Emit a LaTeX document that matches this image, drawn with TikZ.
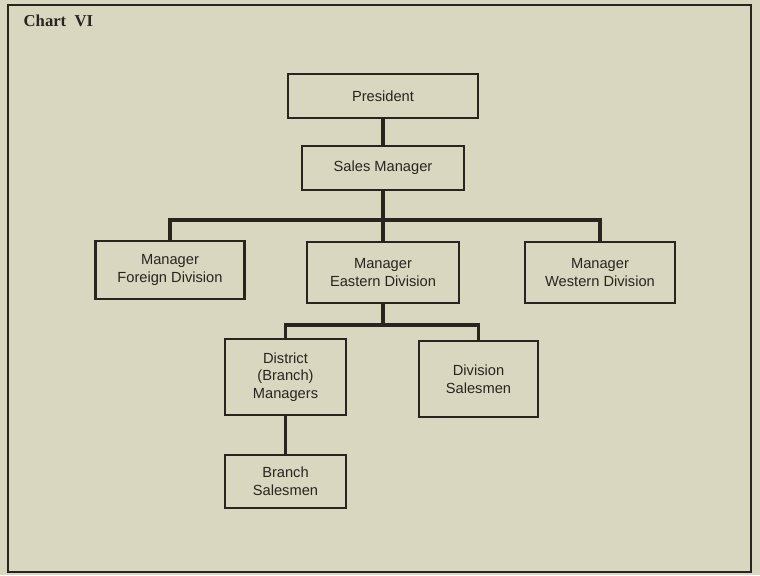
\documentclass[tikz,border=0pt]{standalone}
\usepackage{fontspec}
\setmainfont{Liberation Sans}
\newfontfamily\titlefont{Liberation Serif}
\definecolor{paper}{RGB}{218,215,192}
\definecolor{ink}{RGB}{40,36,32}
\begin{document}
\begin{tikzpicture}[x=0.75pt,y=-0.75pt,
  orgbox/.style 2 args={draw=ink, line width=1.6pt, fill=paper, text=ink,
    minimum width=#1*0.75pt, minimum height=#2*0.75pt, inner sep=0pt,
    align=center, font=\fontsize{11}{13.2}\selectfont},
  conn/.style={draw=ink, line width=2.6pt},
  frame/.style={draw=ink, line width=1.5pt}]
\fill[paper] (0,0) rectangle (760,575);
\useasboundingbox (0,0) rectangle (760,575);
\draw[frame] (8,5) rectangle (751,572);
\node[anchor=base west, text=ink, font=\titlefont\bfseries\fontsize{12.5}{14}\selectfont] (title) at (19,26) {Chart\ \ VI};

\node[orgbox={190}{44}] (pres) at (383,96) {President};
\node[orgbox={162}{44}] (sm) at (383,168) {Sales Manager};
\node[orgbox={149}{58}] (fd) at (170,270) {Manager\\Foreign Division};
\node[orgbox={152}{61}] (ed) at (383,272.5) {Manager\\Eastern Division};
\node[orgbox={150}{61}] (wd) at (600,272.5) {Manager\\Western Division};
\node[orgbox={121}{76}] (dm) at (285.5,377) {District\\(Branch)\\Managers};
\node[orgbox={119}{76}] (ds) at (478.5,379) {Division\\Salesmen};
\node[orgbox={121}{53}] (bs) at (285.5,481.5) {Branch\\Salesmen};

\coordinate (bus1) at (383,220);
\coordinate (bus2) at (383,325);

\draw[conn] (pres.south) -- (sm.north);
\draw[conn] (sm.south) -- (bus1) -- (ed.north);
\draw[conn] (fd.north) |- (bus1) -| (wd.north);
\draw[conn] (ed.south) -- (bus2);
\draw[conn] (dm.north) |- (bus2) -| (ds.north);
\draw[conn] (dm.south) -- (bs.north);
\end{tikzpicture}
\end{document}
